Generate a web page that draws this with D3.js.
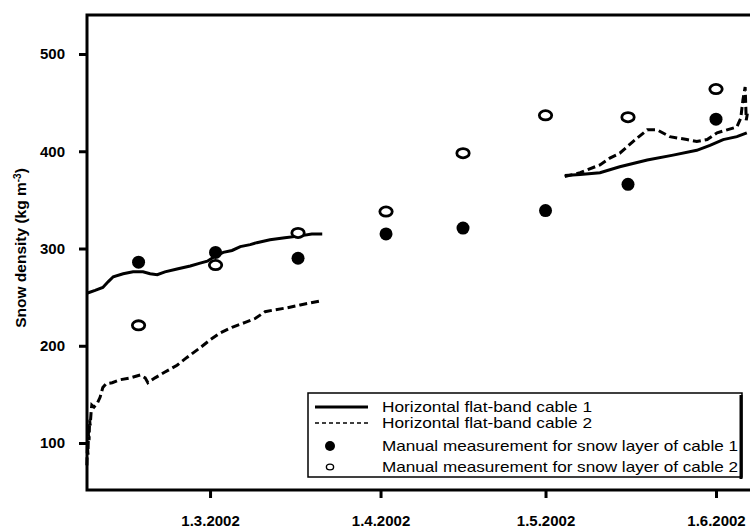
<!DOCTYPE html>
<html>
<head>
<meta charset="utf-8">
<script src="https://cdn.jsdelivr.net/npm/d3@7"></script>
<style>
  body { margin: 0; background: #fff; }
  text { font-family: "Liberation Sans", Arial, sans-serif; }
</style>
</head>
<body>
<div id="chart"></div>
<script>
// day of year 2002 (1 = 1 Jan), fractional
const cable1Day = [37.6, 39.1, 40.5, 41.5, 42.4, 44.2, 46, 47.8, 49.1, 50.4, 51.8, 54, 56.4, 58.2, 59.5,
  60.9, 62.4, 64, 65.5, 67.3, 68.5, 70.9, 73.6, 76.4, 78.5, 80.4,
  null,
  124.5, 127.3, 130.9, 134.5, 139.5, 144.2, 148.5, 150.9, 153.3, 155.8, 157.6];
const cable1Val = [254, 257, 260, 266, 271, 274, 276, 276, 274, 273, 276, 279, 282, 285, 287,
  292, 296, 298, 302, 304, 306, 309, 311, 313, 315, 315,
  null,
  375, 376, 378, 384, 391, 396, 401, 406, 412, 415, 419];

const cable2Day = [37.6, 37.7, 37.8, 37.9, 38.0, 38.1, 38.2, 38.4, 38.5, 38.9, 39.5, 40, 40.5, 41.1, 42.2,
  43.6, 45.5, 47.3, 48.2, 48.7, 50, 51.8, 54, 55.8, 58.2, 60, 61.8, 64, 66.4, 68.2, 70, 71.8, 74,
  76.4, 78.2, 80,
  null,
  124.5, 127.3, 130.9, 132.7, 134.5, 136.9, 139.5, 141.3, 143.6, 146.7, 148.5, 150.4, 152.2, 154,
  155.8, 156.5, 156.9, 157.3, 157.5, 157.8];
const cable2Val = [77, 98, 88, 113, 103, 124, 118, 134, 139, 137, 141, 147, 157, 161, 162,
  165, 167, 170, 167, 162, 167, 173, 180, 188, 198, 206, 213, 219, 224, 228, 235, 237, 239,
  242, 244, 246,
  null,
  374, 378, 386, 393, 398, 410, 422, 422, 415, 412, 410, 412, 419, 422,
  425, 434, 453, 466, 432, 442];

const manualDates = ["2002-02-16", "2002-03-02", "2002-03-17", "2002-04-02", "2002-04-16",
  "2002-05-01", "2002-05-16", "2002-06-01"];
const manual1 = [286, 296, 290, 315, 321, 339, 366, 433];
const manual2 = [221, 283, 316, 338, 398, 437, 435, 464];

const xTickDates = ["2002-03-01", "2002-04-01", "2002-05-01", "2002-06-01"];
const xTickLabels = ["1.3.2002", "1.4.2002", "1.5.2002", "1.6.2002"];
const yTicks = [100, 200, 300, 400, 500];

const legendLabels = ["Horizontal flat-band cable 1", "Horizontal flat-band cable 2",
  "Manual measurement for snow layer of cable 1", "Manual measurement for snow layer of cable 2"];

const W = 750, H = 531;
const plot = { left: 87, right: 760, top: 15, bottom: 490 };

const parseDay = d3.timeParse("%Y-%m-%d");
const fromDoy = doy => new Date(new Date(2002, 0, 1).getTime() + (doy - 1) * 864e5);

const svg = d3.select("#chart").append("svg")
  .attr("width", W)
  .attr("height", H);

const x = d3.scaleTime()
  .domain([new Date(2002, 1, 6, 15), new Date(2002, 5, 9)])
  .range([plot.left, plot.right]);

const y = d3.scaleLinear()
  .domain([51.7, 540.1])
  .range([plot.bottom, plot.top]);

const line = d3.line()
  .defined(d => d[1] != null)
  .x(d => x(fromDoy(d[0])))
  .y(d => y(d[1]));

const c1 = cable1Day.map((d, i) => [d, cable1Val[i]]);
const c2 = cable2Day.map((d, i) => [d, cable2Val[i]]);

svg.append("path")
  .attr("d", line(c2))
  .attr("fill", "none")
  .attr("stroke", "#000")
  .attr("stroke-width", 3)
  .attr("stroke-dasharray", "8,4");

svg.append("path")
  .attr("d", line(c1))
  .attr("fill", "none")
  .attr("stroke", "#000")
  .attr("stroke-width", 3);

// manual measurements
svg.selectAll(".m1")
  .data(manualDates)
  .enter().append("circle")
    .attr("class", "m1")
    .attr("cx", d => x(parseDay(d)))
    .attr("cy", (d, i) => y(manual1[i]))
    .attr("r", 6.5)
    .attr("fill", "#000");

svg.selectAll(".m2")
  .data(manualDates)
  .enter().append("ellipse")
    .attr("class", "m2")
    .attr("cx", d => x(parseDay(d)))
    .attr("cy", (d, i) => y(manual2[i]))
    .attr("rx", 6.2)
    .attr("ry", 4.6)
    .attr("fill", "#fff")
    .attr("stroke", "#000")
    .attr("stroke-width", 2.8);

// frame
svg.append("rect")
  .attr("x", plot.left)
  .attr("y", plot.top)
  .attr("width", plot.right - plot.left)
  .attr("height", plot.bottom - plot.top)
  .attr("fill", "none")
  .attr("stroke", "#000")
  .attr("stroke-width", 3);

// axes
const xAxis = d3.axisBottom(x)
  .tickValues(xTickDates.map(parseDay))
  .tickFormat((d, i) => xTickLabels[i])
  .tickSize(8)
  .tickPadding(17);

const gx = svg.append("g")
  .attr("transform", `translate(0,${plot.bottom})`)
  .call(xAxis);
gx.select(".domain").remove();
gx.selectAll(".tick line").attr("stroke-width", 3);
gx.selectAll(".tick text")
  .attr("font-size", 15)
  .attr("font-weight", "bold")
  .attr("font-family", "Liberation Sans, Arial, sans-serif");

const yAxis = d3.axisLeft(y)
  .tickValues(yTicks)
  .tickSize(8)
  .tickPadding(14);

const gy = svg.append("g")
  .attr("transform", `translate(${plot.left},0)`)
  .call(yAxis);
gy.select(".domain").remove();
gy.selectAll(".tick line").attr("stroke-width", 3);
gy.selectAll(".tick text")
  .attr("font-size", 15)
  .attr("font-weight", "bold")
  .attr("font-family", "Liberation Sans, Arial, sans-serif");

// y title
const yt = svg.append("text")
  .attr("transform", "translate(26,248) rotate(-90)")
  .attr("text-anchor", "middle")
  .attr("font-size", 15.5)
  .attr("font-weight", "bold");
yt.append("tspan").text("Snow density (kg m");
yt.append("tspan").attr("baseline-shift", "super").attr("font-size", 10).text("-3");
yt.append("tspan").text(")");

// legend
const lg = svg.append("g").attr("transform", "translate(308,393)");
lg.append("rect")
  .attr("width", 434)
  .attr("height", 84)
  .attr("fill", "#fff")
  .attr("stroke", "#000")
  .attr("stroke-width", 1.5);
lg.append("line")
  .attr("x1", 433).attr("x2", 433).attr("y1", 2).attr("y2", 86)
  .attr("stroke", "#000").attr("stroke-width", 3);

const rowY = [14, 30, 53, 74];
const rowW = [210, 210, 356, 356];
lg.selectAll(".lt")
  .data(legendLabels)
  .enter().append("text")
    .attr("class", "lt")
    .attr("x", 74)
    .attr("y", (d, i) => rowY[i])
    .attr("dy", "0.35em")
    .attr("font-size", 15)
    .attr("textLength", (d, i) => rowW[i])
    .attr("lengthAdjust", "spacingAndGlyphs")
    .text(d => d);

lg.append("line")
  .attr("x1", 7).attr("x2", 60).attr("y1", rowY[0]).attr("y2", rowY[0])
  .attr("stroke", "#000").attr("stroke-width", 3);
lg.append("line")
  .attr("x1", 7).attr("x2", 60).attr("y1", rowY[1]).attr("y2", rowY[1])
  .attr("stroke", "#000").attr("stroke-width", 1.3).attr("stroke-dasharray", "4,3");
lg.append("circle")
  .attr("cx", 22).attr("cy", rowY[2]).attr("r", 5).attr("fill", "#000");
lg.append("ellipse")
  .attr("cx", 22).attr("cy", rowY[3]).attr("rx", 3.6).attr("ry", 2.9)
  .attr("fill", "#fff").attr("stroke", "#000").attr("stroke-width", 1.4);
</script>
</body>
</html>
